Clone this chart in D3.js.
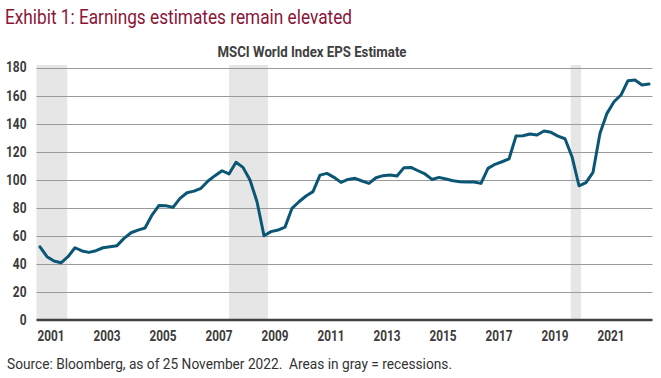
<!DOCTYPE html>
<html>
<head>
<meta charset="utf-8">
<script src="https://cdn.jsdelivr.net/npm/d3@7"></script>
<style>
  html, body { margin: 0; padding: 0; background: #ffffff; }
  svg { display: block; }
</style>
</head>
<body>
<svg id="chart" width="661" height="378"></svg>
<script>
// ---- Data ----
const title = "Exhibit 1: Earnings estimates remain elevated";
const subtitle = "MSCI World Index EPS Estimate";
const source = "Source: Bloomberg, as of 25 November 2022.  Areas in gray = recessions.";

// Quarterly EPS estimate, 2001 Q1 .. 2022 Q4
const firstQuarter = 2001; // year of first quarter
const epsValues = [
  52.2, 45.1, 42.0, 40.8, 45.1, 51.5, 49.2, 48.2, 49.4, 51.5, 52.2, 53.0,
  58.2, 62.2, 64.1, 65.6, 74.8, 81.7, 81.5, 80.3, 86.7, 90.7, 91.9, 93.9,
  99.1, 102.9, 106.4, 104.1, 112.4, 108.8, 99.8, 84.3, 60.1, 63.0, 64.1, 66.2,
  79.6, 84.3, 88.4, 91.5, 103.3, 104.5, 101.7, 98.1, 100.2, 101.0, 99.1, 97.4,
  101.4, 102.9, 103.3, 102.6, 108.6, 108.8, 106.4, 104.1, 100.2, 101.7, 100.5, 99.3,
  98.6, 98.4, 98.4, 97.4, 108.1, 111.0, 112.8, 114.8, 131.1, 131.4, 132.6, 131.9,
  134.7, 133.8, 131.1, 129.2, 116.4, 95.7, 97.9, 105.3, 133.1, 147.3, 155.6, 160.4,
  170.6, 171.1, 167.5, 168.2
];

// Recession periods (decimal years)
const recessionStart = [2001.0, 2007.875, 2020.08];
const recessionEnd   = [2002.1, 2009.27, 2020.45];

const yTicks = [0, 20, 40, 60, 80, 100, 120, 140, 160, 180];
const xTickLabels = ["2001", "2003", "2005", "2007", "2009", "2011", "2013", "2015", "2017", "2019", "2021"];

// ---- Layout ----
const svg = d3.select("#chart");
const mLeft = 36.5, mRight = 652.5, mTop = 67.5, mBottom = 320;

const x = d3.scaleLinear().domain([2001, 2023]).range([mLeft, mRight]);
const y = d3.scaleLinear().domain([0, 180]).range([mBottom, mTop]);

const data = epsValues.map((v, i) => ({ t: firstQuarter + 0.125 + i * 0.25, v }));

const fam = "'Roboto', 'Liberation Sans', sans-serif";

// condense text horizontally to emulate a narrow typeface
function condense(sel, factor) {
  sel.each(function () {
    const w = this.getComputedTextLength();
    d3.select(this).attr("textLength", w * factor).attr("lengthAdjust", "spacingAndGlyphs");
  });
}

// Title
svg.append("text")
  .attr("x", 5).attr("y", 24)
  .attr("fill", "#8a1538")
  .style("font-family", fam)
  .style("font-size", "21px")
  .text(title)
  .call(s => s.attr("textLength", 347).attr("lengthAdjust", "spacingAndGlyphs"));

svg.append("text")
  .attr("x", 312).attr("y", 57)
  .attr("text-anchor", "middle")
  .attr("fill", "#404040")
  .style("font-family", fam)
  .style("font-weight", "bold")
  .style("font-size", "14px")
  .text(subtitle)
  .call(s => s.attr("textLength", 189).attr("lengthAdjust", "spacingAndGlyphs"));

// Recession bands
svg.append("g").selectAll("rect")
  .data(recessionStart.map((s, i) => [s, recessionEnd[i]]))
  .join("rect")
  .attr("x", d => x(d[0]))
  .attr("width", d => x(d[1]) - x(d[0]))
  .attr("y", 65)
  .attr("height", mBottom - 65)
  .attr("fill", "#e6e6e6");

// Gridlines
svg.append("g").selectAll("line")
  .data(yTicks.filter(d => d > 0))
  .join("line")
  .attr("x1", mLeft).attr("x2", mRight)
  .attr("y1", d => Math.round(y(d)) + 0.5).attr("y2", d => Math.round(y(d)) + 0.5)
  .attr("stroke", "#9a9a9a")
  .attr("stroke-width", 1);

// Y axis labels
const yAxis = d3.axisLeft(y).tickValues(yTicks).tickSize(0).tickPadding(10);
const gy = svg.append("g").attr("transform", `translate(${mLeft},0)`).call(yAxis);
gy.select(".domain").remove();
gy.selectAll("text")
  .attr("fill", "#3a3a3a")
  .style("font-family", fam)
  .style("font-weight", "bold")
  .style("font-size", "14px")
  .call(condense, 0.85);

// X axis
const xAxis = d3.axisBottom(x)
  .tickValues(xTickLabels.map(s => +s + 0.5))
  .tickFormat((d, i) => xTickLabels[i])
  .tickSize(0).tickPadding(11);
const gx = svg.append("g").attr("transform", `translate(0,${mBottom})`).call(xAxis);
gx.select(".domain").remove();
gx.selectAll("text")
  .attr("fill", "#3a3a3a")
  .style("font-family", fam)
  .style("font-weight", "bold")
  .style("font-size", "14px")
  .call(condense, 0.84);

svg.append("line")
  .attr("x1", mLeft).attr("x2", mRight)
  .attr("y1", mBottom).attr("y2", mBottom)
  .attr("stroke", "#404040")
  .attr("stroke-width", 2.5);

// Line
const line = d3.line().x(d => x(d.t)).y(d => y(d.v));
svg.append("path")
  .datum(data)
  .attr("d", line)
  .attr("fill", "none")
  .attr("stroke", "#0c5675")
  .attr("stroke-width", 3)
  .attr("stroke-linejoin", "round")
  .attr("stroke-linecap", "round");

// Source
svg.append("text")
  .attr("x", 7).attr("y", 369)
  .attr("fill", "#333333")
  .style("font-family", fam)
  .style("font-size", "14px")
  .style("white-space", "pre")
  .text(source)
  .call(s => s.attr("textLength", 445).attr("lengthAdjust", "spacingAndGlyphs"));
</script>
</body>
</html>
